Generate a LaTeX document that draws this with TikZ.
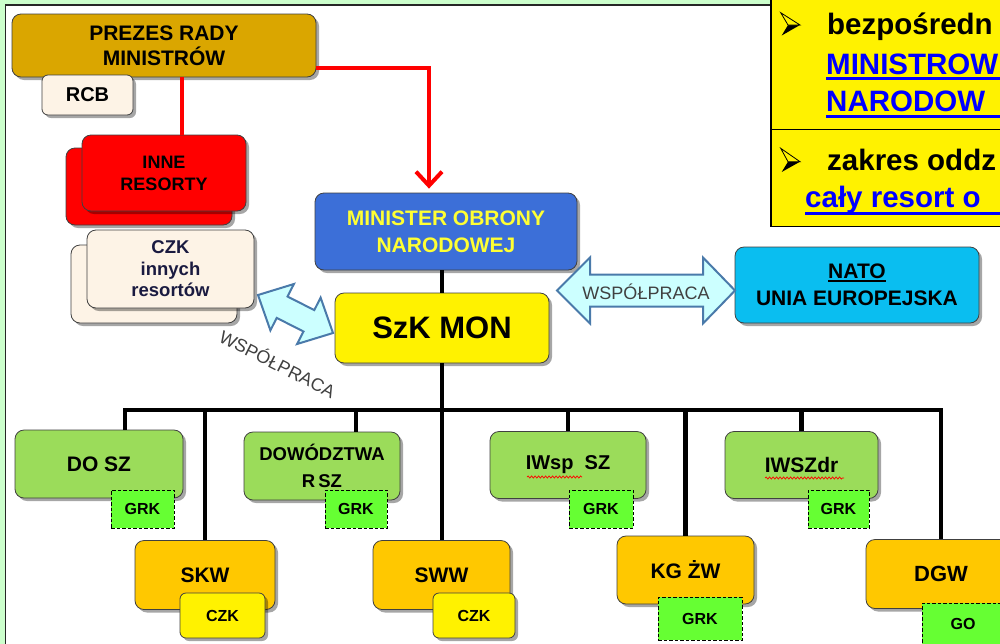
\documentclass[tikz,border=0pt]{standalone}
\usepackage{fontspec}
\setmainfont{Liberation Sans}
\usetikzlibrary{shadows,arrows.meta,decorations.pathmorphing}
\newcommand\fsz[2]{\fontsize{#1}{#2}\selectfont}
\newcommand\myul[1]{\setbox0\hbox{#1}\rlap{\rule[-3pt]{\wd0}{1.6pt}}\box0}
\definecolor{bggreen}{HTML}{CCFFCC}
\definecolor{gold}{HTML}{DAA600}
\definecolor{cream}{HTML}{FDF3E6}
\definecolor{monblue}{HTML}{3C6FD8}
\definecolor{natoblue}{HTML}{0ABEF0}
\definecolor{boxgreen}{HTML}{9BDC5A}
\definecolor{grkgreen}{HTML}{66FF33}
\definecolor{boxorange}{HTML}{FFC800}
\definecolor{arrowfill}{HTML}{CCFFFF}
\definecolor{arrowline}{HTML}{4A7AAA}
\definecolor{navy}{HTML}{1A1A40}
\definecolor{montext}{HTML}{FFFF33}
\definecolor{linkblue}{HTML}{0000FF}
\tikzset{
  box/.style={draw=black!75, line width=0.8pt, rounded corners=9pt,
    drop shadow={shadow xshift=3pt, shadow yshift=-3pt, opacity=0.35, fill=black},
    align=center, inner sep=0pt, text=black},
  gbox/.style={box, fill=boxgreen, font=\bfseries\fsz{21}{25}},
  obox/.style={box, fill=boxorange, font=\bfseries\fsz{21}{25}},
  czkbox/.style={box, fill=yellow, rounded corners=6pt, font=\bfseries\fsz{16}{16}},
  grk/.style={draw=black, dash pattern=on 3.5pt off 2pt, line width=0.9pt,
    fill=grkgreen, font=\bfseries\fsz{16}{16}, inner sep=0pt},
  conn/.style={draw=black, line width=4.5pt, line join=miter},
  redline/.style={draw=red, line width=4pt, line join=miter},
  coop/.style={fill=arrowfill, draw=arrowline, line width=2pt, line join=miter},
  cooptext/.style={font=\fsz{18}{18}\addfontfeatures{Kerning=Off}, text=black!75, inner sep=0pt},
  squig/.style={draw=red, line width=0.7pt, decorate,
    decoration={snake, segment length=3.5pt, amplitude=1.1pt}},
  info/.style={font=\bfseries\fsz{29.5}{30}, inner sep=0pt, anchor=base west},
}
\begin{document}
\begin{tikzpicture}[x=1pt,y=-1pt]
\useasboundingbox (0,0) rectangle (1000,643);
\clip (0,0) rectangle (1000,643);
\fill[bggreen] (-5,-5) rectangle (1010,660);
\draw[fill=white, line width=1.6pt, draw=black!85] (5.5,4.7) rectangle (1020,700);

% top boxes
\node[box, fill=gold, minimum width=304pt, minimum height=63pt, font=\bfseries\fsz{21}{25}] (prezes) at (164,45.5) {PREZES RADY\\MINISTRÓW};
\node[box, fill=cream, minimum width=91pt, minimum height=40pt, rounded corners=6pt, font=\bfseries\fsz{20}{24}] (rcb) at (87.5,95) {RCB};
\node[box, fill=red, minimum width=166pt, minimum height=77pt] (inneb) at (149,186.5) {};
\node[box, fill=red, minimum width=164pt, minimum height=76pt, font=\bfseries\fsz{18}{22}] (inne) at (164,173) {INNE\\RESORTY};
\node[box, fill=cream, minimum width=166pt, minimum height=78pt] (czkb) at (154,284) {};
\node[box, fill=cream, minimum width=167pt, minimum height=78pt, text=navy, font=\bfseries\fsz{18.5}{21.5}] (czk) at (170.5,269) {CZK\\innych\\resortów};
\node[box, fill=monblue, minimum width=262pt, minimum height=77pt, text=montext, font=\bfseries\fsz{21}{27}] (mon) at (446,231.5) {MINISTER OBRONY\\NARODOWEJ};
\node[box, fill=yellow, minimum width=214pt, minimum height=70pt, font=\bfseries\fsz{31}{31}] (szk) at (442,328) {SzK MON};
\node[box, fill=natoblue, minimum width=244pt, minimum height=76pt, font=\bfseries\fsz{21}{27}] (nato) at (857,285) {\myul{NATO}\\UNIA EUROPEJSKA};

% second level
\node[gbox, minimum width=168pt, minimum height=68pt] (dosz) at (99,464) {DO SZ};
\node[grk, minimum width=63pt, minimum height=38pt] (grk1) at (142.5,509) {GRK};
\node[gbox, minimum width=156pt, minimum height=68pt, font=\bfseries\fsz{18.5}{27}] (dow) at (322,466) {DOWÓDZTWA\\R\,SZ};
\node[grk, minimum width=62pt, minimum height=38pt] (grk2) at (356,509) {GRK};
\node[gbox, minimum width=156pt, minimum height=67pt, font=\bfseries\fsz{20}{24}] (iwsp) at (568,465) {IWsp\ \ SZ};
\node[grk, minimum width=64pt, minimum height=38pt] (grk3) at (601,509) {GRK};
\node[gbox, minimum width=153pt, minimum height=67pt] (iwszdr) at (801.5,465) {IWSZdr};
\node[grk, minimum width=61pt, minimum height=38pt] (grk4) at (838.5,509) {GRK};

\node[obox, minimum width=140pt, minimum height=69pt] (skw) at (205,575) {SKW};
\node[czkbox, minimum width=85pt, minimum height=45pt] (czk1) at (222.5,615.5) {CZK};
\node[obox, minimum width=137pt, minimum height=69pt] (sww) at (441.5,575) {SWW};
\node[czkbox, minimum width=82pt, minimum height=45pt] (czk2) at (474,615.5) {CZK};
\node[obox, minimum width=137pt, minimum height=68pt] (kgzw) at (685.5,570) {KG ŻW};
\node[grk, minimum width=84pt, minimum height=43pt] (grk5) at (700,618.5) {GRK};
\node[obox, minimum width=150pt, minimum height=69pt, font=\bfseries\fsz{22}{25}] (dgw) at (941,574) {DGW};
\node[grk, minimum width=82pt, minimum height=42pt] (go) at (963,624) {GO};

% spelling squiggles
\draw[squig] ([xshift=-41pt,yshift=-12pt]iwsp.center) -- ++(55,0);
\draw[squig] ([xshift=-36.5pt,yshift=-13pt]iwszdr.center) -- ++(79,0);

% red connectors
\draw[redline, -{Straight Barb[length=14pt,width=26pt]}, shorten >=4pt]
  ([yshift=-22.5pt]prezes.east) -| ([xshift=-17pt]mon.north);
\coordinate (prezesdrop) at ([xshift=18pt]prezes.south);
\draw[redline] (prezesdrop) -- (prezesdrop |- inne.north);

% black connectors
\coordinate (busL) at (125,410);
\coordinate (busR) at (dgw.north |- busL);
\coordinate (dowtop) at ([xshift=34pt]dow.north);
\draw[conn] (mon.south -| szk.north) -- (szk.north);
\draw[conn] (szk.south) -- (szk.south |- sww.north);
\draw[conn] (busL |- dosz.north) -- (busL) -- (busR) -- (dgw.north);
\draw[conn] (skw.north |- busL) -- (skw.north);
\draw[conn] (dowtop |- busL) -- (dowtop);
\draw[conn] (iwsp.north |- busL) -- (iwsp.north);
\draw[conn] (kgzw.north |- busL) -- (kgzw.north);
\draw[conn] (iwszdr.north |- busL) -- (iwszdr.north);

% cooperation arrows
\draw[coop] (557,290.5) -- (590,257.5) -- (590,274.5) -- (703,274.5) -- (703,257.5)
  -- (735,290.5) -- (703,323.5) -- (703,306.5) -- (590,306.5) -- (590,323.5) -- cycle;
\node[cooptext] (coop1) at (646,292) {WSPÓŁPRACA};
\draw[coop] (258.0,295.0) -- (293.9,284.0) -- (287.5,296.5) -- (314.3,310.1) -- (320.6,297.6)
  -- (333.0,333.0) -- (297.1,344.0) -- (303.5,331.5) -- (276.7,317.9) -- (270.4,330.4) -- cycle;
\node[cooptext, rotate=-27] (coop2) at (278,363) {WSPÓŁPRACA};

% info box
\draw[fill=yellow, line width=1.6pt] (771,-5) rectangle (1010,226.5);
\draw[line width=1.6pt] (771,129.5) -- (1010,129.5);
\fill[black] (800,25) -- (781.7,35.5) -- (788,25) -- cycle;
\draw[black, line width=0.8pt, line join=miter, fill=yellow] (800,25) -- (780.7,12.7) -- (788,25) -- cycle;
\fill[black] (800,161.7) -- (781.7,172) -- (788,161.7) -- cycle;
\draw[black, line width=0.8pt, line join=miter, fill=yellow] (800,161.7) -- (780.7,148.3) -- (788,161.7) -- cycle;
\node[info] (t1) at (827,34) {bezpośredn};
\node[info, text=linkblue] (t2) at (826,74) {MINISTROW};
\node[info, text=linkblue] (t3) at (826,111.5) {NARODOW};
\node[info] (t4) at (827,170) {zakres oddz};
\node[info, text=linkblue] (t5) at (805,207.5) {cały resort o};
\draw[linkblue, line width=3.3pt] ([yshift=-4.5pt]t2.base west) -- ++(200,0);
\draw[linkblue, line width=3.3pt] ([yshift=-5pt]t3.base west) -- ++(200,0);
\draw[linkblue, line width=3.3pt] ([yshift=-6pt]t5.base west) -- ++(220,0);
\end{tikzpicture}
\end{document}
